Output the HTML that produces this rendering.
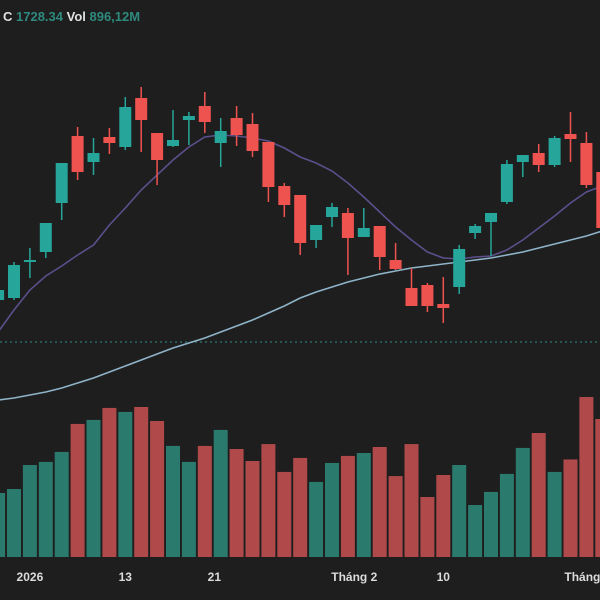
<!DOCTYPE html>
<html><head><meta charset="utf-8"><style>
html,body{margin:0;padding:0;background:#1e1e1e;}
svg{display:block;font-family:"Liberation Sans",sans-serif;}
</style></head><body>
<svg id="chart" width="600" height="600" viewBox="0 0 600 600">
<rect x="0" y="0" width="600" height="600" fill="#1e1e1e"/>
<g id="vol"></g>
<line x1="0" y1="342" x2="600" y2="342" stroke="#2f8f84" stroke-width="1" stroke-dasharray="2,3"/>
<g id="ma"></g>
<g id="candles"></g>
<text x="3" y="21" font-size="13" font-weight="bold"><tspan fill="#e0e0e0">C </tspan><tspan fill="#2e8a7e">1728.34 </tspan><tspan fill="#e0e0e0">Vol </tspan><tspan fill="#2e8a7e">896,12M</tspan></text>
<g id="xaxis"></g>
</svg>
<script>
const opens=[1770,1772,1808,1818,1867,1934,1908,1933,1923,1972,1937,1924,1950,1964,1927,1952,1946,1928,1884,1875,1830,1853,1857,1833,1844,1810,1782,1785,1766,1783,1837,1848,1868,1908,1917,1905,1936,1927,1898];
const closes=[1780,1805,1810,1847,1907,1898,1917,1927,1963,1950,1910,1930,1954,1948,1939,1935,1919,1883,1865,1827,1845,1863,1832,1842,1813,1801,1764,1764,1762,1821,1844,1857,1906,1915,1905,1932,1931,1885,1842];
const highs=[1782,1808,1822,1847,1907,1943,1932,1942,1973,1983,1937,1960,1958,1978,1952,1964,1957,1928,1887,1875,1845,1867,1862,1862,1844,1827,1802,1787,1793,1825,1846,1857,1910,1915,1926,1934,1958,1938,1900];
const lows=[1765,1770,1792,1812,1850,1890,1895,1916,1920,1918,1885,1923,1925,1937,1903,1924,1913,1868,1853,1815,1822,1843,1795,1833,1800,1800,1764,1758,1747,1776,1831,1814,1866,1893,1898,1903,1908,1882,1840];
const volumes=[416,442,598,618,683,865,891,969,943,975,884,722,618,722,826,702,624,734,553,644,488,611,657,676,715,526,734,390,533,598,338,423,540,709,806,553,634,1040,897];
const volumeUp=[1,1,1,1,1,0,1,0,1,0,0,1,1,0,1,0,0,0,0,0,1,1,0,1,0,0,0,0,0,1,1,1,1,1,0,1,0,0,0];
const maShort=[1738,1760,1780,1794,1804,1815,1825,1845,1862,1880,1895,1910,1923,1933,1935,1934,1932,1929,1922,1913,1907,1899,1887,1873,1858,1843,1830,1818,1812,1811,1813,1814,1820,1830,1842,1854,1867,1878,1884];
const maLong=[1670,1672,1675,1678,1682,1687,1692,1698,1704,1710,1716,1722,1727,1732,1738,1744,1750,1757,1764,1772,1778,1783,1788,1792,1796,1799,1802,1804,1806,1808,1810,1812,1815,1818,1822,1826,1830,1834,1839];
const tickLabels=["2026","13","21","Tháng 2","10","Tháng 3"];
const tickIndex=[2,8,13.6,22.4,28,37];

const NS="http://www.w3.org/2000/svg";
const X0=-1.9, STEP=15.9;
const xs=i=>X0+STEP*i;
const ys=p=>2070-p;
const VBASE=557, VK=1/6.5;
const yv=v=>VBASE-v*VK;
function mk(tag,attrs,parent){const e=document.createElementNS(NS,tag);for(const k in attrs)e.setAttribute(k,attrs[k]);parent.appendChild(e);return e;}
const gV=document.getElementById('vol'),gC=document.getElementById('candles'),gM=document.getElementById('ma'),gX=document.getElementById('xaxis');
for(let i=0;i<opens.length;i++){
  const up=closes[i]>=opens[i];
  const x=xs(i);
  const vb=mk('rect',{x:x-7,y:yv(volumes[i]),width:14,height:VBASE-yv(volumes[i]),fill:volumeUp[i]?'#2a7a6e':'#b0494a'},gV);
  
  
  const col=up?'#26a69a':'#ef5350';
  const w=mk('line',{x1:x,x2:x,y1:ys(highs[i]),y2:ys(lows[i]),stroke:col,'stroke-width':1.5},gC);
  
  
  const t=ys(Math.max(opens[i],closes[i])),b=ys(Math.min(opens[i],closes[i]));
  const r=mk('rect',{x:x-6,y:t,width:12,height:Math.max(2,b-t),fill:col},gC);
  
  
}
function line(arr,color,name){
  const d=arr.map((v,i)=>(i?'L':'M')+xs(i).toFixed(1)+','+ys(v).toFixed(1)).join(' ');
  const p=mk('path',{d:d,fill:'none',stroke:color,'stroke-width':1.6},gM);
  
  
}
line(maLong,'#8fb4c9','ma-long-line');
line(maShort,'#5c4f8c','ma-short-line');
tickLabels.forEach((s,k)=>{
  const t=mk('text',{x:xs(tickIndex[k]),y:581,'text-anchor':k==5?'start':'middle','font-size':12,'font-weight':'bold',fill:'#dcdcdc'},gX);
  if(k==5)t.setAttribute('x',xs(tickIndex[k])-22);
  t.textContent=s;
  
  
});
</script>
</body></html>
